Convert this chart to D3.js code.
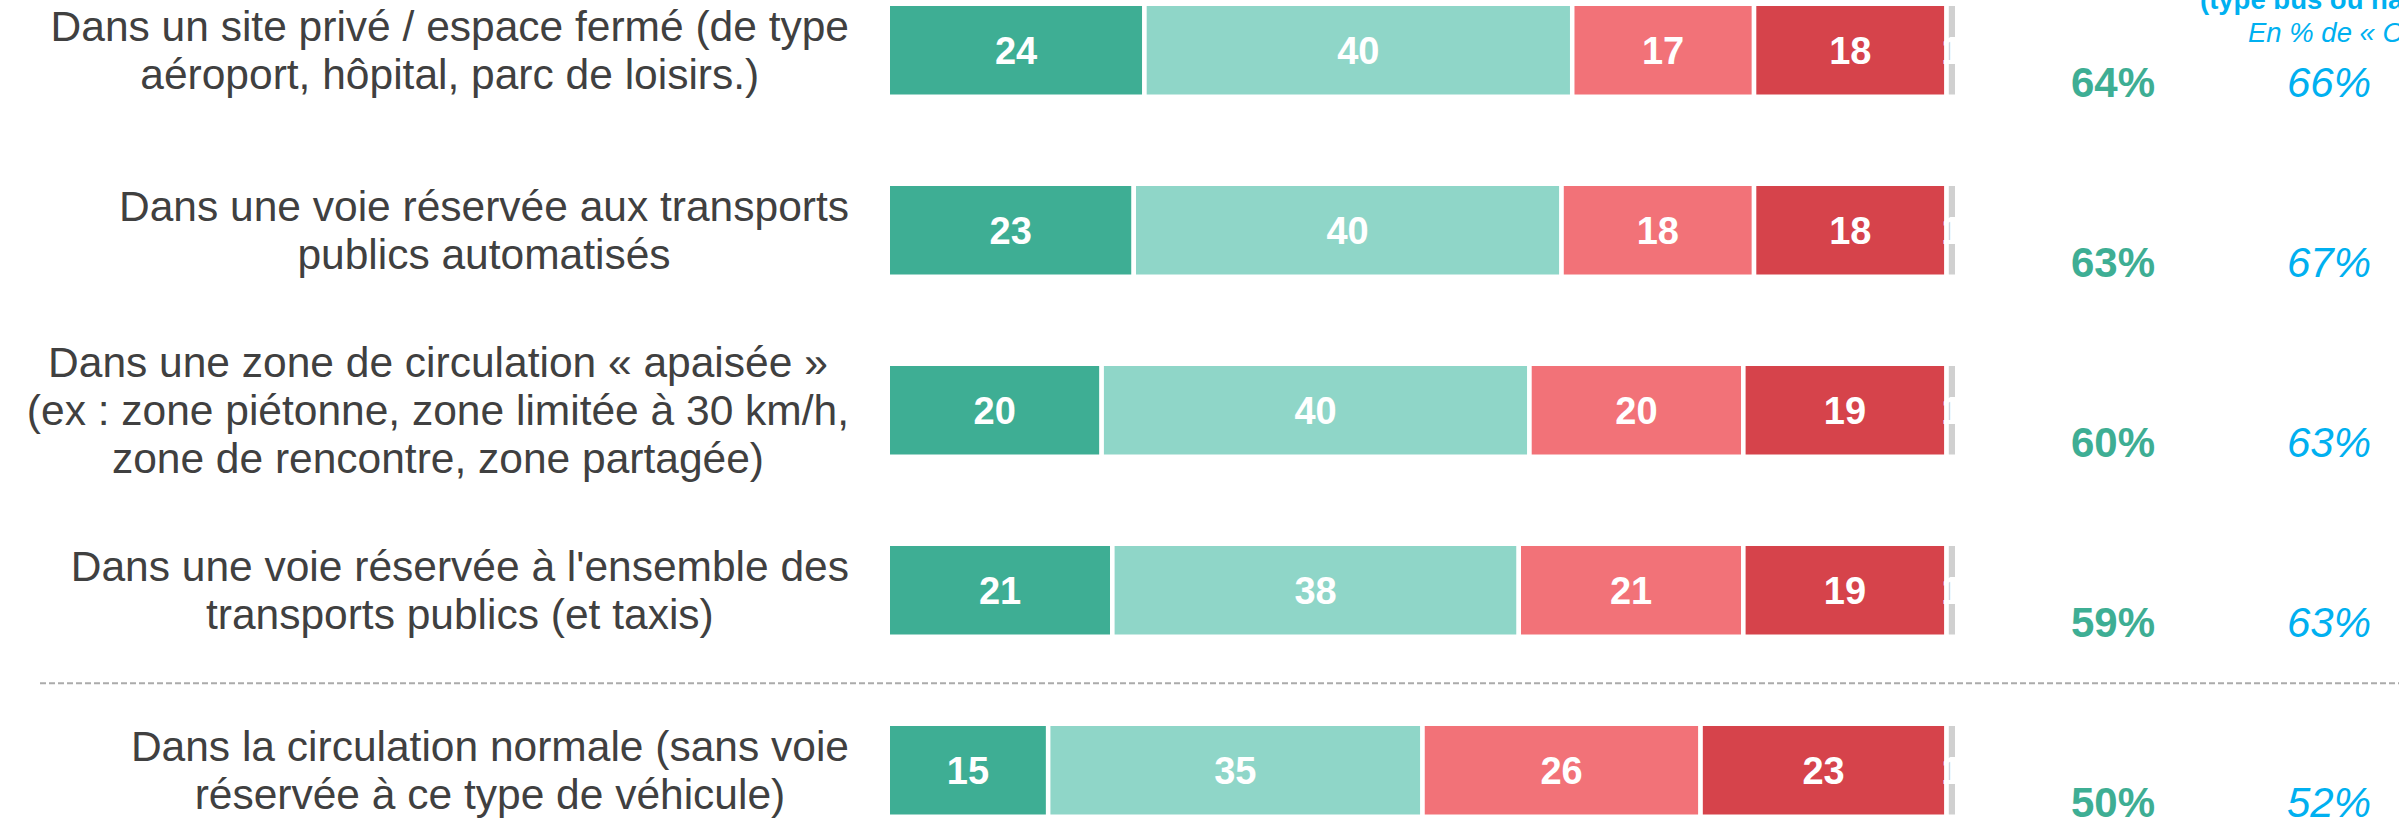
<!DOCTYPE html>
<html>
<head>
<meta charset="utf-8">
<script src="https://cdn.jsdelivr.net/npm/d3@7"></script>
<style>
  html, body { margin: 0; padding: 0; background: #ffffff; overflow: hidden; }
  svg { display: block; }
</style>
</head>
<body>
<svg id="chart" width="2399" height="818"></svg>
<script>
// ---------- DATA ----------
const categories = [
  ["Dans un site privé / espace fermé (de type", "aéroport, hôpital, parc de loisirs.)"],
  ["Dans une voie réservée aux transports", "publics automatisés"],
  ["Dans une zone de circulation « apaisée »", "(ex : zone piétonne, zone limitée à 30 km/h,", "zone de rencontre, zone partagée)"],
  ["Dans une voie réservée à l'ensemble des", "transports publics (et taxis)"],
  ["Dans la circulation normale (sans voie", "réservée à ce type de véhicule)"]
];
const seriesNames = ["Tout à fait favorable", "Plutôt favorable", "Plutôt pas favorable", "Pas du tout favorable", "Ne se prononce pas"];
const toutAFait   = [24, 23, 20, 21, 15];
const plutot      = [40, 40, 40, 38, 35];
const plutotPas   = [17, 18, 20, 21, 26];
const pasDuTout   = [18, 18, 19, 19, 23];
const nsp         = [1, 1, 1, 1, 1];
const totalOui    = [64, 63, 60, 59, 50];
const compareOui  = [66, 67, 63, 63, 52];
const headerLine1 = "(type bus ou navette)";
const headerLine2 = "En % de « Oui »";
const colors = ["#3eae94", "#8fd6c8", "#f27278", "#d6434b", "#d0d0d0"];

// ---------- SCALES ----------
const svg = d3.select("#chart");
const idx = d3.range(categories.length);
const x = d3.scaleLinear().domain([0, 100]).range([887.75, 1957.25]);
const y = d3.scaleBand().domain(idx).range([3.75, 816.75]).paddingInner(0.4833).paddingOuter(0);

const series = [toutAFait, plutot, plutotPas, pasDuTout, nsp];
const rows = idx.map(i => {
  let acc = 0;
  return series.map((s, k) => {
    const seg = { row: i, k, v: s[i], x0: acc, x1: acc + s[i] };
    acc += s[i];
    return seg;
  });
});

// ---------- BARS ----------
const g = svg.append("g");
rows.forEach(segs => {
  g.selectAll(null).data(segs).enter().append("rect")
    .attr("x", d => x(d.x0))
    .attr("y", d => y(d.row))
    .attr("width", d => x(d.x1) - x(d.x0))
    .attr("height", y.bandwidth())
    .attr("fill", d => colors[d.k])
    .attr("stroke", "#ffffff")
    .attr("stroke-width", 4.5);
  g.selectAll(null).data(segs).enter().append("text")
    .attr("x", d => (x(d.x0) + x(d.x1)) / 2)
    .attr("y", d => y(d.row) + y.bandwidth() / 2)
    .attr("dy", "0.36em")
    .attr("text-anchor", "middle")
    .attr("font-family", "'Liberation Sans', Arial, sans-serif")
    .attr("font-weight", "bold")
    .attr("font-size", 38)
    .attr("fill", "#ffffff")
    .text(d => d.v);
});

// ---------- CATEGORY LABELS ----------
const labelRight = 849;
const labelSize = 42.5;
const lineH = 48;
categories.forEach((lines, i) => {
  const cy = y(i) + y.bandwidth() / 2;
  const t = svg.append("text")
    .attr("font-family", "'Liberation Sans', Arial, sans-serif")
    .attr("font-size", labelSize)
    .attr("fill", "#404040")
    .attr("text-anchor", "middle");
  const spans = lines.map((ln, j) => t.append("tspan").text(ln));
  const maxW = d3.max(spans, s => s.node().getComputedTextLength());
  const cx = labelRight - maxW / 2;
  const n = lines.length;
  spans.forEach((s, j) => {
    s.attr("x", cx).attr("y", cy + 15 + (j - (n - 1) / 2) * lineH);
  });
});

// ---------- PERCENT COLUMNS ----------
svg.append("g").selectAll("text").data(idx).enter().append("text")
  .attr("x", 2113)
  .attr("y", i => y(i) + y.bandwidth())
  .attr("text-anchor", "middle")
  .attr("font-family", "'Liberation Sans', Arial, sans-serif")
  .attr("font-weight", "bold")
  .attr("font-size", 42)
  .attr("fill", "#3eae94")
  .text(i => totalOui[i] + "%");

svg.append("g").selectAll("text").data(idx).enter().append("text")
  .attr("x", 2329)
  .attr("y", i => y(i) + y.bandwidth())
  .attr("text-anchor", "middle")
  .attr("font-family", "'Liberation Sans', Arial, sans-serif")
  .attr("font-style", "italic")
  .attr("font-size", 42)
  .attr("fill", "#00b0f0")
  .text(i => compareOui[i] + "%");

// ---------- HEADER (partially cut by the frame, as in the reference) ----------
svg.append("text")
  .attr("x", 2200).attr("y", 9)
  .attr("font-family", "'Liberation Sans', Arial, sans-serif")
  .attr("font-weight", "bold")
  .attr("font-size", 27.5)
  .attr("fill", "#00b0f0")
  .text(headerLine1);
svg.append("text")
  .attr("x", 2248).attr("y", 42)
  .attr("font-family", "'Liberation Sans', Arial, sans-serif")
  .attr("font-style", "italic")
  .attr("font-size", 27.5)
  .attr("fill", "#00b0f0")
  .text(headerLine2);

// ---------- SEPARATOR ----------
const sepY = (y(3) + y.bandwidth() + y(4)) / 2 + 3;
svg.append("line")
  .attr("x1", 40).attr("x2", 2399)
  .attr("y1", sepY).attr("y2", sepY)
  .attr("stroke", "#ababab")
  .attr("stroke-width", 2)
  .attr("stroke-dasharray", "6,3");
</script>
</body>
</html>
